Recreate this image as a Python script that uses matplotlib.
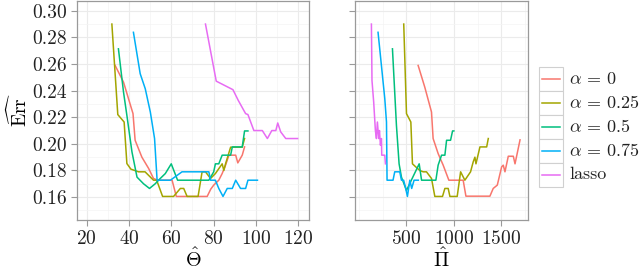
import numpy as np
import matplotlib
matplotlib.use("Agg")
import matplotlib.pyplot as plt
from matplotlib.patches import Rectangle
from matplotlib.lines import Line2D
from matplotlib.ticker import MultipleLocator, FixedLocator, FormatStrFormatter

plt.rcParams['mathtext.fontset'] = 'cm'
plt.rcParams['font.family'] = 'serif'
plt.rcParams['font.serif'] = ['cmr10', 'DejaVu Serif']
plt.rcParams['axes.formatter.use_mathtext'] = True

# series labels and colours (ggplot hue palette)
labels = [r'$\alpha \,=\, 0$', r'$\alpha \,=\, 0.25$', r'$\alpha \,=\, 0.5$',
          r'$\alpha \,=\, 0.75$', 'lasso']
colors = ['#F8766D', '#A3A500', '#00BF7D', '#00B0F6', '#E76BF3']

# left panel: Theta hat vs estimated error
theta_a0 = [33.4, 37.4, 41.9, 42.9, 46.1, 49.3, 51.6, 53.5, 60.4, 62.4, 77.0, 78.7, 80.1, 82.5,
            84.1, 85.7, 87.3, 90.5, 91.5, 93.6, 94.7]
err_t_a0 = [0.259, 0.2464, 0.2227, 0.2027, 0.190, 0.1815, 0.174, 0.1727, 0.1727, 0.1605, 0.1605,
            0.166, 0.169, 0.1727, 0.1777, 0.184, 0.1915, 0.1915, 0.1857, 0.1915, 0.1977]

theta_a25 = [31.9, 34.7, 37.7, 39.0, 40.9, 44.5, 47.6, 51.6, 53.1, 55.9, 61.1, 64.3, 65.9, 67.5,
             72.7, 74.6, 76.2, 78.6, 80.9, 84.1, 84.9, 85.7, 88.1, 93.6, 94.7]
err_t_a25 = [0.290, 0.222, 0.2164, 0.1852, 0.181, 0.179, 0.179, 0.1727, 0.1727, 0.1605, 0.1605,
             0.1665, 0.1665, 0.1605, 0.1605, 0.179, 0.179, 0.174, 0.1777, 0.185, 0.180, 0.185,
             0.1975, 0.1975, 0.204]

theta_a50 = [35.0, 37.4, 39.0, 41.4, 43.8, 46.9, 49.7, 52.4, 54.8, 57.2, 60.0, 63.0, 77.8, 80.1,
             80.9, 82.5, 84.1, 88.1, 88.9, 93.6, 94.7, 96.3]
err_t_a50 = [0.2714, 0.239, 0.2214, 0.194, 0.175, 0.170, 0.1665, 0.170, 0.174, 0.1777, 0.185,
             0.1727, 0.1727, 0.179, 0.185, 0.185, 0.1915, 0.1915, 0.1977, 0.1977, 0.2097, 0.2097]

theta_a75 = [42.1, 45.3, 47.7, 50.1, 52.1, 53.3, 59.6, 65.1, 77.8, 78.6, 80.9, 82.5, 84.5, 86.5,
             88.9, 90.5, 92.8, 95.2, 96.3, 100.8]
err_t_a75 = [0.2838, 0.2527, 0.2414, 0.2239, 0.204, 0.1727, 0.1727, 0.179, 0.179, 0.1727, 0.1727,
             0.1665, 0.1605, 0.1665, 0.1665, 0.1727, 0.1665, 0.1665, 0.1727, 0.1727]

theta_lasso = [76.2, 81.3, 89.2, 91.7, 95.2, 96.3, 99.1, 103.1, 105.5, 107.6, 109.5, 110.4, 111.8,
               114.2, 119.8]
err_t_lasso = [0.290, 0.2471, 0.2407, 0.2327, 0.2227, 0.222, 0.210, 0.210, 0.204, 0.210, 0.210,
               0.2157, 0.209, 0.204, 0.204]

# right panel: Pi hat vs estimated error
pi_a0 = [623, 693, 764, 781, 834, 887, 947, 1098, 1127, 1380, 1415, 1458, 1504, 1521, 1539, 1574,
         1627, 1645, 1698]
err_p_a0 = [0.2589, 0.2426, 0.2239, 0.204, 0.1927, 0.184, 0.1727, 0.1727, 0.1607, 0.1607, 0.1665,
            0.169, 0.1827, 0.184, 0.179, 0.1907, 0.1907, 0.185, 0.203]

pi_a25 = [471, 500, 546, 563, 598, 641, 676, 711, 764, 799, 880, 905, 940, 958, 1035, 1071, 1116,
          1176, 1204, 1222, 1233, 1275, 1346, 1363]
err_p_a25 = [0.29, 0.2227, 0.2164, 0.185, 0.1827, 0.180, 0.179, 0.179, 0.174, 0.1605, 0.1605,
             0.1665, 0.1665, 0.1605, 0.1605, 0.179, 0.1727, 0.179, 0.1865, 0.190, 0.185, 0.1977,
             0.1977, 0.204]

pi_a50 = [352, 394, 422, 447, 500, 560, 634, 659, 810, 834, 870, 905, 923, 965, 986, 1000]
err_p_a50 = [0.2714, 0.2139, 0.185, 0.175, 0.165, 0.174, 0.185, 0.1727, 0.1727, 0.184, 0.1915,
             0.1915, 0.2027, 0.2027, 0.2097, 0.2097]

pi_a75 = [200, 271, 289, 295, 358, 376, 429, 447, 470, 488, 510, 535, 555, 580, 625]
err_p_a75 = [0.2838, 0.234, 0.2164, 0.1727, 0.1727, 0.179, 0.179, 0.1727, 0.1727, 0.1677, 0.1605,
             0.1727, 0.1665, 0.1727, 0.1727]

pi_lasso = [130, 136, 154, 172, 183, 193, 207, 215, 225, 236, 239, 271, 278]
err_p_lasso = [0.29, 0.2476, 0.2314, 0.210, 0.204, 0.2164, 0.204, 0.210, 0.199, 0.204, 0.1915,
               0.1915, 0.185]

theta_series = [(theta_a0, err_t_a0), (theta_a25, err_t_a25), (theta_a50, err_t_a50),
                (theta_a75, err_t_a75), (theta_lasso, err_t_lasso)]
pi_series = [(pi_a0, err_p_a0), (pi_a25, err_p_a25), (pi_a50, err_p_a50),
             (pi_a75, err_p_a75), (pi_lasso, err_p_lasso)]

W, H = 640, 271
fig = plt.figure(figsize=(6.4, 2.71), dpi=100)
ax1 = fig.add_axes([76.7 / W, 1 - 220 / H, (309 - 76.7) / W, 219.5 / H])
ax2 = fig.add_axes([355.3 / W, 1 - 220 / H, (528 - 355.3) / W, 219.5 / H])


def style(ax):
    ax.set_facecolor('white')
    ax.grid(True, which='major', color='#EBEBEB', lw=0.8)
    ax.grid(True, which='minor', color='#F4F4F4', lw=0.5)
    ax.set_axisbelow(True)
    for s in ax.spines.values():
        s.set_color('#9A9A9A')
        s.set_linewidth(0.9)
    ax.tick_params(which='major', direction='out', length=4.5, width=0.8, color='#9A9A9A',
                   labelsize=14, labelcolor='#222222', pad=2.5)
    ax.tick_params(which='minor', length=0)
    ax.set_ylim(0.1428, 0.3077)
    ax.yaxis.set_major_locator(MultipleLocator(0.02))
    ax.yaxis.set_minor_locator(MultipleLocator(0.01))


for (x, y), c in zip(theta_series, colors):
    ax1.plot(x, y, color=c, lw=1.1)
for (x, y), c in zip(pi_series, colors):
    ax2.plot(x, y, color=c, lw=1.1)

style(ax1)
style(ax2)
ax1.set_xlim(15.25, 125.2)
ax1.xaxis.set_major_locator(MultipleLocator(20))
ax1.xaxis.set_minor_locator(MultipleLocator(10))
ax1.yaxis.set_major_formatter(FormatStrFormatter('%.2f'))

ax2.set_xlim(-40, 1782)
ax2.xaxis.set_major_locator(FixedLocator([500, 1000, 1500]))
ax2.xaxis.set_minor_locator(FixedLocator([0, 250, 750, 1250, 1750]))
ax2.tick_params(axis='y', labelleft=False)

ax1.set_xlabel(r'$\hat{\Theta}$', fontsize=14.5, labelpad=0)
ax2.set_xlabel(r'$\hat{\Pi}$', fontsize=14.5, labelpad=0)
ax1.set_ylabel(r'$\widehat{\mathrm{Err}}$', fontsize=14, labelpad=1)

# legend with boxed keys
kx, kw, kh, ktop = 538.5, 24, 24, 66.7
for i, (lab, c) in enumerate(zip(labels, colors)):
    yt = ktop + i * kh
    fig.patches.append(Rectangle((kx / W, 1 - (yt + kh) / H), kw / W, kh / H,
                                 transform=fig.transFigure, facecolor='white',
                                 edgecolor='#D0D0D0', lw=0.8))
    yc = 1 - (yt + kh / 2) / H
    fig.lines.append(Line2D([(kx + 3) / W, (kx + kw - 3) / W], [yc, yc],
                            transform=fig.transFigure, color=c, lw=1.1))
    fig.text(569 / W, yc, lab, fontsize=13, va='center', ha='left', color='#222222')

fig.savefig('out.png', dpi=100)
